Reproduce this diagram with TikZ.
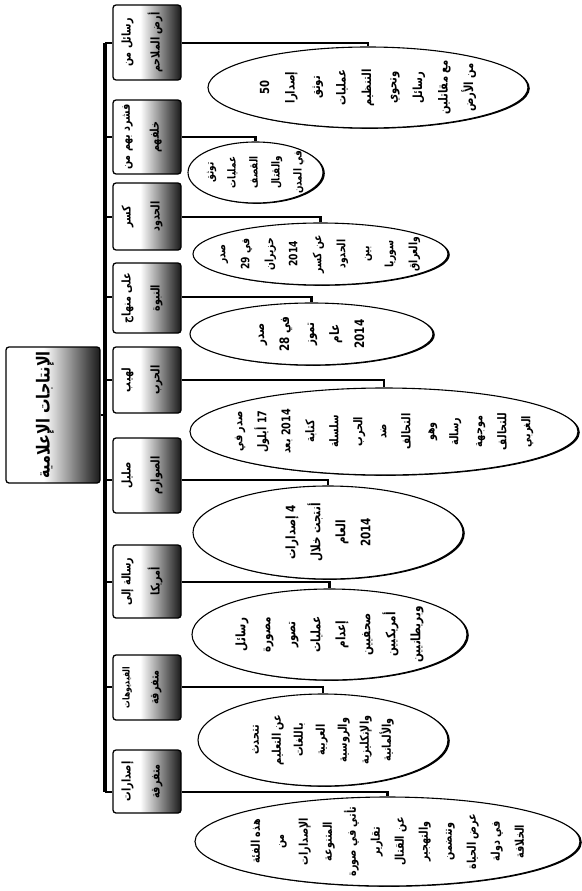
\documentclass[tikz,border=0pt]{standalone}
\usepackage{fontspec}
\newfontfamily\arfont[Script=Arabic, FakeStretch=0.8]{DejaVu Sans}
\TeXXeTstate=1
\usetikzlibrary{shapes.geometric,shadows}
\newcommand\RL[1]{\beginR #1\endR}
\newcommand\LN[1]{\beginL #1\endL{}}
\pgfdeclarehorizontalshading{boxsh}{100bp}{color(0bp)=(white); color(25bp)=(white); color(45bp)=(white); color(60bp)=(black!45); color(75bp)=(black!90); color(100bp)=(black!90)}
\begin{document}
\begin{tikzpicture}[x=1pt,y=1pt,
  conn/.style={line width=2.6pt},
  busline/.style={line width=3.6pt},
  box/.style={draw, line width=1.3pt, shading=boxsh, rounded corners=3pt, inner sep=0pt},
  btext/.style={rotate=90, align=center, inner sep=0pt, font=\arfont\bfseries\fontsize{12}{29}\selectfont},
  roottext/.style={rotate=90, align=center, inner sep=0pt, font=\arfont\bfseries\fontsize{18}{22}\selectfont},
  ell/.style={ellipse, draw, line width=1.1pt, fill=white, inner sep=0pt,
    drop shadow={shadow xshift=1.8pt, shadow yshift=-0.8pt, fill=black, opacity=1}},
  etext/.style={rotate=90, align=center, inner sep=0pt, font=\arfont\bfseries\fontsize{13}{25}\selectfont}]
\useasboundingbox[fill=white] (0,0) rectangle (581,-891);

% root
\node[box, minimum width=94, minimum height=136] (root) at (53,-415) {};
\node[roottext] (rt) at ([xshift=-8]root.center) {\RL{الإنتاجات الإعلامية}};

% child boxes
\node[box, minimum width=68, minimum height=75] (b1) at (147,-42.5) {};
\node[box, minimum width=68, minimum height=74] (b2) at (147,-137) {};
\node[box, minimum width=68, minimum height=67] (b3) at (147,-216.5) {};
\node[box, minimum width=68, minimum height=70] (b4) at (147,-298) {};
\node[box, minimum width=68, minimum height=66] (b5) at (147,-380) {};
\node[box, minimum width=68, minimum height=75] (b6) at (147,-475.5) {};
\node[box, minimum width=68, minimum height=73] (b7) at (147,-581.5) {};
\node[box, minimum width=68, minimum height=65] (b8) at (147,-687.5) {};
\node[box, minimum width=68, minimum height=63] (b9) at (147,-781.5) {};

\node[btext] (bt1) at ([xshift=-5]b1.center) {\RL{رسائل من}\\\RL{أرض الملاحم}};
\node[btext] (bt2) at ([xshift=-5]b2.center) {\RL{فشرد بهم من}\\\RL{خلفهم}};
\node[btext] (bt3) at ([xshift=-5]b3.center) {\RL{كسر}\\\RL{الحدود}};
\node[btext] (bt4) at ([xshift=-5]b4.center) {\RL{على منهاج}\\\RL{النبوة}};
\node[btext] (bt5) at ([xshift=-5]b5.center) {\RL{لهيب}\\\RL{الحرب}};
\node[btext] (bt6) at ([xshift=-5]b6.center) {\RL{صليل}\\\RL{الصوارم}};
\node[btext] (bt7) at ([xshift=-5]b7.center) {\RL{رسالة إلى}\\\RL{أمريكا}};
\node[btext] (bt8) at ([xshift=-5]b8.center) {{\fontsize{9.5}{12}\selectfont\RL{الفيديوهات}}\\\RL{متفرقة}};
\node[btext] (bt9) at ([xshift=-5]b9.center) {\RL{إصدارات}\\\RL{متفرقة}};

% ellipses
\node[ell, minimum width=320, minimum height=81] (e1) at (368,-87.5) {};
\node[ell, minimum width=135, minimum height=61] (e2) at (255.5,-172.5) {};
\node[ell, minimum width=255, minimum height=62] (e3) at (320.5,-254) {};
\node[ell, minimum width=243, minimum height=62] (e4) at (311.5,-334) {};
\node[ell, minimum width=388, minimum height=87] (e5) at (384,-431.5) {};
\node[ell, minimum width=270, minimum height=93] (e6) at (328,-532.5) {};
\node[ell, minimum width=275, minimum height=91] (e7) at (329.5,-634.5) {};
\node[ell, minimum width=250, minimum height=92] (e8) at (323,-740) {};
\node[ell, minimum width=385, minimum height=89] (e9) at (387.5,-841.5) {};

\node[etext, font=\arfont\bfseries\fontsize{12.5}{25.5}\selectfont] (et1) at (e1) {\RL{\LN{50}}\\\RL{إصدارا}\\\RL{توثق}\\\RL{عمليات}\\\RL{التنظيم}\\\RL{وتحوي}\\\RL{رسائل}\\\RL{مع مقاتلين}\\\RL{من الأرض}};
\node[etext, font=\arfont\bfseries\fontsize{11}{22}\selectfont] (et2) at (e2) {\RL{توثق}\\\RL{عمليات}\\\RL{القصف}\\\RL{والقتال}\\\RL{في المدن}};
\node[etext, font=\arfont\bfseries\fontsize{11.5}{24}\selectfont] (et3) at (e3) {\RL{صدر}\\\RL{في \LN{29}}\\\RL{حزيران}\\\RL{\LN{2014}}\\\RL{عن كسر}\\\RL{الحدود}\\\RL{بين}\\\RL{سوريا}\\\RL{والعراق}};
\node[etext] (et4) at (e4) {\RL{صدر}\\\RL{في \LN{28}}\\\RL{تموز}\\\RL{عام}\\\RL{\LN{2014}}};
\node[etext, font=\arfont\bfseries\fontsize{12}{24}\selectfont] (et5) at (e5) {\RL{صدر في}\\\RL{\LN{17} أيلول}\\\RL{\LN{2014} بعد}\\\RL{كتابة}\\\RL{سلسلة}\\\RL{الحرب}\\\RL{ضد}\\\RL{التحالف}\\\RL{وهو}\\\RL{رسالة}\\\RL{موجهة}\\\RL{للتحالف}\\\RL{الغربي}};
\node[etext] (et6) at (e6) {\RL{\LN{4} إصدارات}\\\RL{أنتجت خلال}\\\RL{العام}\\\RL{\LN{2014}}};
\node[etext] (et7) at (e7) {\RL{رسائل}\\\RL{مصورة}\\\RL{تصور}\\\RL{عمليات}\\\RL{إعدام}\\\RL{صحفيين}\\\RL{أمريكيين}\\\RL{وبريطانيين}};
\node[etext, font=\arfont\bfseries\fontsize{12}{22}\selectfont] (et8) at (e8) {\RL{تتحدث}\\\RL{عن التعليم}\\\RL{باللغات}\\\RL{العربية}\\\RL{والروسية}\\\RL{والإنكليزية}\\\RL{والألمانية}};
\node[etext, font=\arfont\bfseries\fontsize{12}{24}\selectfont] (et9) at (e9) {\RL{هذه الفئة}\\\RL{من}\\\RL{الإصدارات}\\\RL{المتنوعة}\\\RL{تأتي في صورة}\\\RL{تقارير}\\\RL{عن القتال}\\\RL{والتهجير}\\\RL{وتتضمن}\\\RL{عرض الحياة}\\\RL{في دولة}\\\RL{الخلافة}};

% connector rows
\coordinate (l1) at (105,-43);
\coordinate (l2) at (105,-137);
\coordinate (l3) at (105,-217);
\coordinate (l4) at (105,-297);
\coordinate (l5) at (105,-380);
\coordinate (l6) at (105,-480);
\coordinate (l7) at (105,-582);
\coordinate (l8) at (105,-687);
\coordinate (l9) at (105,-792);

\draw[busline] (l1) -- (l9);
\draw[conn] (root.east) -- (root.east -| l1);
\foreach \i in {1,...,9}{
  \draw[conn] (l\i) -- (l\i -| b\i.west);
  \draw[conn] (l\i -| b\i.east) -- (l\i -| e\i.north) -- (e\i.north);
}
\end{tikzpicture}
\end{document}
